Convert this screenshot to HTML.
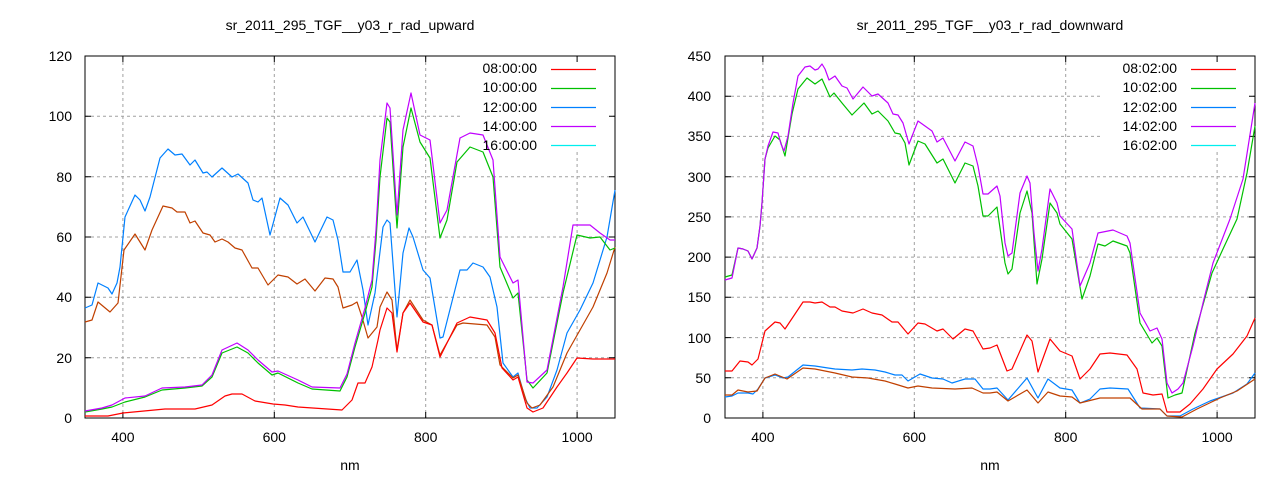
<!DOCTYPE html>
<html><head><meta charset="utf-8"><style>
body{margin:0;background:#fff;}
svg{display:block;font-family:"Liberation Sans",sans-serif;}
text{font-size:14px;fill:#000;}
.g{stroke:#a0a0a0;stroke-width:1;stroke-dasharray:3,3;fill:none;}
.s{fill:none;stroke-width:1.2;stroke-linejoin:round;}
</style></head><body>
<svg width="1280" height="480" viewBox="0 0 1280 480">
<!-- LEFT -->
<g>
<text x="350" y="30" text-anchor="middle">sr_2011_295_TGF__y03_r_rad_upward</text>
<g class="g">
<path d="M85 357.7H615M85 297.3H615M85 237H615M85 176.7H615M85 116.3H615"/>
<path d="M122.9 56V418M274.3 56V418M425.7 56V418M577.1 56V418"/>
</g>
<rect x="462" y="57" width="150" height="95" fill="#fff"/>
<g font-size="14" text-anchor="end">
<text x="72" y="423">0</text><text x="72" y="363">20</text><text x="72" y="302">40</text><text x="72" y="242">60</text><text x="72" y="182">80</text><text x="72" y="121">100</text><text x="72" y="61">120</text>
</g>
<g text-anchor="middle">
<text x="122.9" y="442">400</text><text x="274.3" y="442">600</text><text x="425.7" y="442">800</text><text x="577.1" y="442">1000</text>
<text x="350" y="470">nm</text>
</g>
<g stroke="#000" stroke-width="1">
<path d="M85 357.7h6M85 297.3h6M85 237h6M85 176.7h6M85 116.3h6M615 357.7h-6M615 297.3h-6M615 237h-6M615 176.7h-6M615 116.3h-6"/>
<path d="M122.9 418v-6M274.3 418v-6M425.7 418v-6M577.1 418v-6M122.9 56v6M274.3 56v6M425.7 56v6M577.1 56v6"/>
<rect x="85" y="56" width="530" height="362" fill="none"/>
</g>
<polyline class="s" stroke="#0080ff" points="85,308 92,305 98,283 108,288 112,294 117,283 120,267 125,217 135,195 140,200 145,211 150,197 160,158 168,149 175,155 182,154 190,165 195,160 203,173 207,172 212,177 222,168 232,177 238,174 248,183 253,200 258,202 262,198 270,235 280,198 288,205 297,223 303,217 315,242 327,217 333,220 338,240 343,272 350,272 357,260 363,290 368,325 375,293 383,227 387,220 390,223 397,317 403,253 409,228 413,237 423,270 430,278 440,338 443,337 460,270 467,270 473,263 483,267 490,277 497,307 503,363 513,377 518,373 525,398 530,408 537,408 547,397 557,370 567,333 580,310 593,283 607,237 615,190"/>
<polyline class="s" stroke="#c04000" points="85,322 92,320 98,302 110,312 118,303 124,250 135,234 145,250 152,230 163,206 172,208 177,212 185,212 190,223 195,221 203,233 210,235 215,242 222,239 228,242 235,248 242,250 252,268 258,268 268,285 278,275 288,277 297,284 305,279 315,291 325,278 333,279 338,287 343,308 352,305 357,302 362,317 368,338 377,327 380,307 387,292 392,300 397,350 403,313 410,300 423,320 432,325 440,355 457,325 463,323 487,325 495,337 500,365 513,378 518,375 527,403 532,408 540,405 553,387 567,353 580,330 593,307 607,273 615,247"/>
<polyline class="s" stroke="#ff0000" points="85,416 108,416 123,413 165,409 195,409 212,405 225,396 232,394 242,394 255,401 273,404 285,405 298,407 342,410 352,400 358,383 365,383 372,367 378,340 380,330 387,308 392,313 397,352 403,313 410,303 423,322 432,325 440,357 457,323 470,317 487,320 495,333 502,368 513,380 518,377 527,408 533,412 543,408 557,387 567,373 577,358 593,359 615,359"/>
<polyline class="s" stroke="#00c000" points="85,412 102,409 112,407 125,402 145,397 162,390 185,388 202,386 212,377 222,353 237,347 248,353 258,363 272,375 278,373 298,383 312,389 340,391 347,377 355,347 365,313 372,287 376,240 380,177 387,118 390,122 397,228 403,147 411,108 420,142 430,158 440,238 447,220 457,162 470,147 483,152 493,177 500,267 513,298 518,293 527,380 533,388 547,373 563,293 577,235 590,238 600,237 610,250 615,248"/>
<polyline class="s" stroke="#c000ff" points="85,411 102,408 112,405 125,398 145,396 162,388 185,387 202,385 212,375 222,350 237,343 248,350 258,360 272,372 278,371 298,380 312,387 340,388 347,374 355,343 365,308 372,280 376,230 380,160 387,103 390,108 397,215 403,130 411,93 420,135 430,140 440,223 447,210 460,138 470,133 483,135 493,160 500,257 513,283 518,280 527,382 533,383 547,370 563,287 573,225 590,225 600,233 610,240 615,240"/>
<g text-anchor="end">
<text x="537" y="73">08:00:00</text><text x="537" y="92">10:00:00</text><text x="537" y="112">12:00:00</text><text x="537" y="131">14:00:00</text><text x="537" y="150">16:00:00</text>
</g>
<g stroke-width="1.2">
<path d="M551 69.5h45" stroke="#ff0000"/><path d="M551 88.5h45" stroke="#00c000"/><path d="M551 107.5h45" stroke="#0080ff"/><path d="M551 126.5h45" stroke="#c000ff"/><path d="M551 145.5h45" stroke="#00eeee"/>
</g>
</g>
<!-- RIGHT -->
<g>
<text x="990" y="30" text-anchor="middle">sr_2011_295_TGF__y03_r_rad_downward</text>
<g class="g">
<path d="M725 377.8H1255M725 337.6H1255M725 297.3H1255M725 257.1H1255M725 216.9H1255M725 176.7H1255M725 136.4H1255M725 96.2H1255"/>
<path d="M762.9 56V418M914.3 56V418M1065.7 56V418M1217.1 56V418"/>
</g>
<rect x="1102" y="57" width="150" height="95" fill="#fff"/>
<g text-anchor="end">
<text x="711" y="423">0</text><text x="711" y="383">50</text><text x="711" y="343">100</text><text x="711" y="302">150</text><text x="711" y="262">200</text><text x="711" y="222">250</text><text x="711" y="182">300</text><text x="711" y="141">350</text><text x="711" y="101">400</text><text x="711" y="61">450</text>
</g>
<g text-anchor="middle">
<text x="762.9" y="442">400</text><text x="914.3" y="442">600</text><text x="1065.7" y="442">800</text><text x="1217.1" y="442">1000</text>
<text x="990" y="470">nm</text>
</g>
<g stroke="#000" stroke-width="1">
<path d="M725 377.8h6M725 337.6h6M725 297.3h6M725 257.1h6M725 216.9h6M725 176.7h6M725 136.4h6M725 96.2h6M1255 377.8h-6M1255 337.6h-6M1255 297.3h-6M1255 257.1h-6M1255 216.9h-6M1255 176.7h-6M1255 136.4h-6M1255 96.2h-6"/>
<path d="M762.9 418v-6M914.3 418v-6M1065.7 418v-6M1217.1 418v-6M762.9 56v6M914.3 56v6M1065.7 56v6M1217.1 56v6"/>
<rect x="725" y="56" width="530" height="362" fill="none"/>
</g>
<polyline class="s" stroke="#ff0000" points="725,371 732,371 740,361 748,362 752,365 758,359 765,331 775,322 780,323 785,329 795,314 803,302 810,302 815,303 822,302 830,307 835,307 842,311 853,313 863,309 872,313 882,315 892,322 898,322 908,334 918,323 925,324 937,331 943,329 953,339 965,329 973,331 983,349 990,348 997,345 1007,371 1012,369 1027,335 1032,341 1038,372 1050,339 1060,351 1072,356 1080,379 1090,369 1100,354 1110,353 1127,355 1137,369 1143,393 1153,395 1162,394 1167,412 1180,412 1190,404 1203,389 1217,369 1233,354 1247,336 1255,318"/>
<polyline class="s" stroke="#0080ff" points="725,397 732,396 738,393 748,393 753,394 758,389 765,378 775,375 783,378 788,377 803,365 815,366 828,368 835,369 852,370 862,369 875,370 885,372 895,375 902,375 908,381 920,374 932,378 943,379 952,383 965,379 975,379 983,389 990,389 997,388 1008,400 1027,378 1038,398 1048,379 1060,388 1072,390 1080,403 1090,399 1100,389 1110,388 1128,389 1140,408 1160,409 1167,416 1180,416 1193,409 1210,401 1233,393 1247,384 1255,373"/>
<polyline class="s" stroke="#c04000" points="725,395 732,395 738,390 748,392 757,391 765,378 775,374 787,379 803,368 815,369 835,373 852,377 868,378 885,381 895,384 908,388 918,386 932,388 955,389 972,388 983,393 990,393 997,392 1008,401 1027,390 1038,403 1048,392 1060,396 1072,397 1080,403 1100,398 1130,398 1142,409 1160,409 1167,416 1182,417 1197,409 1220,398 1237,391 1255,379"/>
<polyline class="s" stroke="#00c000" points="725,277 732,275 738,248 743,249 748,251 752,259 757,248 760,226 762,203 765,159 768,148 775,136 780,140 785,156 792,114 798,89 807,78 815,84 822,79 830,97 834,93 842,103 852,115 864,103 872,114 878,111 888,121 895,133 900,134 905,143 909,165 918,141 925,144 937,163 943,159 955,183 965,163 973,166 978,186 983,216 988,216 997,207 1005,263 1008,274 1012,269 1020,213 1027,191 1032,213 1037,284 1042,259 1050,203 1057,213 1060,224 1072,239 1082,299 1090,276 1098,244 1105,246 1113,241 1127,246 1130,253 1140,323 1152,343 1157,338 1162,346 1168,398 1175,395 1182,393 1195,333 1212,273 1223,249 1237,219 1247,173 1255,126"/>
<polyline class="s" stroke="#c000ff" points="725,280 732,278 738,248 743,249 748,251 752,259 757,248 760,226 762,203 765,159 768,146 773,132 778,133 781,144 784,151 788,136 793,103 798,76 805,67 810,66 815,70 818,69 822,64 825,69 829,80 835,76 842,86 847,88 853,99 863,87 872,96 878,94 888,103 893,114 898,115 903,123 909,144 918,121 925,126 932,131 937,142 943,138 955,161 965,142 973,146 978,166 983,194 988,194 997,186 1000,196 1005,243 1008,256 1012,253 1020,193 1027,176 1030,183 1034,233 1038,271 1042,249 1050,189 1057,203 1060,216 1072,229 1080,286 1090,263 1098,233 1113,230 1127,236 1130,243 1140,313 1150,331 1157,328 1162,339 1167,383 1172,393 1178,389 1183,383 1193,346 1203,303 1213,263 1230,219 1243,179 1255,103"/>
<g text-anchor="end">
<text x="1177" y="73">08:02:00</text><text x="1177" y="92">10:02:00</text><text x="1177" y="112">12:02:00</text><text x="1177" y="131">14:02:00</text><text x="1177" y="150">16:02:00</text>
</g>
<g stroke-width="1.2">
<path d="M1191 69.5h45" stroke="#ff0000"/><path d="M1191 88.5h45" stroke="#00c000"/><path d="M1191 107.5h45" stroke="#0080ff"/><path d="M1191 126.5h45" stroke="#c000ff"/><path d="M1191 145.5h45" stroke="#00eeee"/>
</g>
</g>
</svg>
</body></html>
